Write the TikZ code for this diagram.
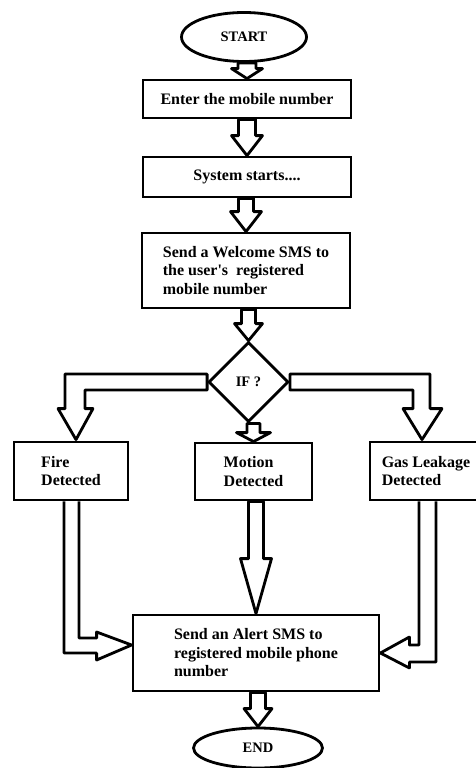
\documentclass[tikz,border=0pt]{standalone}
\usepackage{fontspec}
\setmainfont{Liberation Serif}
\usetikzlibrary{calc,positioning,shapes.geometric}

\tikzset{
  box/.style={draw, line width=2.8pt, align=left, inner sep=2pt, font=\bfseries\fontsize{16}{18.5}\selectfont},
  term/.style={box, ellipse, inner sep=0pt, font=\bfseries\fontsize{14.5}{16}\selectfont},
  choice/.style={box, diamond, aspect=1, inner sep=0pt, minimum width=80pt, minimum height=80pt, font=\bfseries\fontsize{14.5}{16}\selectfont},
  blockarrow/.style={draw, line width=2.8pt, line join=round},
}

% hollow arrow pointing down: from node, to node, shaft half width, head half width, head length
\newcommand{\blockdown}[5]{%
  \draw[blockarrow] let \p1=(#1.south), \p2=(#2.north) in
    (\x2-#3,\y1) -- (\x2-#3,\y2+#5) -- (\x2-#4,\y2+#5) -- (\x2,\y2)
    -- (\x2+#4,\y2+#5) -- (\x2+#3,\y2+#5) -- (\x2+#3,\y1) -- cycle;
}

\begin{document}
\begin{tikzpicture}[x=1pt,y=-1pt]
	\useasboundingbox (0,0) rectangle (476,768);

	\node[term, minimum width=125pt, minimum height=49pt] (start) at (244,37) {START};
	\node[box, minimum width=208pt, minimum height=38pt] (enter) at (247,99) {Enter the mobile number};
	\node[box, minimum width=208pt, minimum height=40pt] (system) at (247,177) {System starts....};
	\node[box, minimum width=208pt, minimum height=75pt] (welcome) at (246,270.5) {Send a Welcome SMS to\\the user\textquotesingle s\ \ registered\\mobile number};
	\node[choice] (ifnode) at (248.5,382) {IF ?};
	\node[box, minimum width=114pt, minimum height=58pt] (fire) at (71,471) {Fire\\Detected};
	\node[box, minimum width=117pt, minimum height=57pt] (motion) at (253.5,471.5) {Motion\\Detected};
	\node[box, minimum width=112pt, minimum height=58pt] (gas) at (426,471) {Gas Leakage\\Detected};
	\node[box, minimum width=246pt, minimum height=76pt] (alert) at (256,653) {Send an Alert SMS to\\registered mobile phone\\number};
	\node[term, minimum width=129pt, minimum height=40pt] (end) at (258,748) {END};

	\blockdown{start}{enter}{9}{15.5}{10}
	\blockdown{enter}{system}{8.5}{15.5}{20}
	\blockdown{system}{welcome}{7.5}{15.5}{20}
	\blockdown{welcome}{ifnode}{7}{14}{17}
	\blockdown{ifnode}{motion}{6.5}{17}{9}
	\blockdown{motion}{alert}{7.5}{15.5}{55}
	\blockdown{alert}{end}{7.5}{14}{18}

	% side branches out of the decision
	\coordinate (firetip) at ($(fire.north)+(5,-1)$);
	\draw[blockarrow] ($(ifnode.west)+(0,-8)$) -| ($(firetip)+(-11,-31)$) -- ++(-7,0) -- (firetip)
		-- ++(17,-31) -- ++(-8,0) |- ($(ifnode.west)+(0,8)$) -- cycle;
	\coordinate (gastip) at ($(gas.north)+(-4,-1)$);
	\draw[blockarrow] ($(ifnode.east)+(0,-8)$) -| ($(gastip)+(8,-31)$) -- ++(12,0) -- (gastip)
		-- ++(-19,-31) -- ++(10,0) |- ($(ifnode.east)+(0,8)$) -- cycle;

	% bent arrows into the alert box
	\coordinate (firein) at ($(alert.west)+(0,-8)$);
	\draw[blockarrow] ($(fire.south)+(-7,0)$) |- ($(firein)+(-35,8)$) -- ++(0,7) -- (firein)
		-- ++(-35,-13) -- ++(0,6) -| ($(fire.south)+(8,0)$);
	\draw[blockarrow] ($(gas.south)+(-7,0)$) |- ($(alert.east)+(29,-8)$) -- ++(0,-8) -- (alert.east)
		-- ++(29,15) -- ++(0,-6) -| ($(gas.south)+(10,0)$);
\end{tikzpicture}
\end{document}
